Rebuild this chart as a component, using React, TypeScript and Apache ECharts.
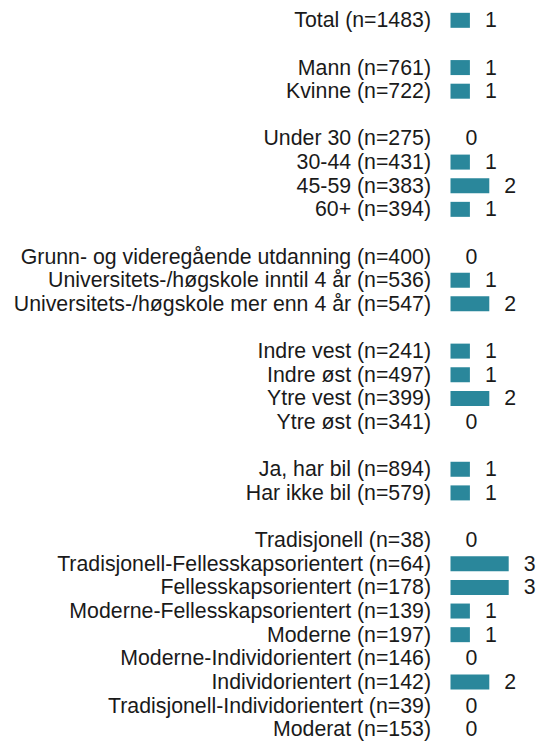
import React, { useEffect, useRef } from "react";
import * as echarts from "echarts";

const categories: string[] = [
  "Total (n=1483)",
  "",
  "Mann (n=761)",
  "Kvinne (n=722)",
  "",
  "Under 30 (n=275)",
  "30-44 (n=431)",
  "45-59 (n=383)",
  "60+ (n=394)",
  "",
  "Grunn- og videregående utdanning (n=400)",
  "Universitets-/høgskole inntil 4 år (n=536)",
  "Universitets-/høgskole mer enn 4 år (n=547)",
  "",
  "Indre vest (n=241)",
  "Indre øst (n=497)",
  "Ytre vest (n=399)",
  "Ytre øst (n=341)",
  "",
  "Ja, har bil (n=894)",
  "Har ikke bil (n=579)",
  "",
  "Tradisjonell (n=38)",
  "Tradisjonell-Fellesskapsorientert (n=64)",
  "Fellesskapsorientert (n=178)",
  "Moderne-Fellesskapsorientert (n=139)",
  "Moderne (n=197)",
  "Moderne-Individorientert (n=146)",
  "Individorientert (n=142)",
  "Tradisjonell-Individorientert (n=39)",
  "Moderat (n=153)",
];

const values: (number | null)[] = [
  1,
  null,
  1, 1,
  null,
  0, 1, 2, 1,
  null,
  0, 1, 2,
  null,
  1, 1, 2, 0,
  null,
  1, 1,
  null,
  0, 3, 3, 1, 1, 0, 2, 0, 0,
];

export default function App() {
  const ref = useRef<HTMLDivElement>(null);
  useEffect(() => {
    document.body.style.margin = "0";
    const chart = echarts.init(ref.current!, null, { renderer: "svg" });
    chart.setOption({
      animation: false,
      grid: { left: 450.5, right: 12.9, top: 8.5, height: 733.4 },
      xAxis: { type: "value", min: 0, max: 4, show: false },
      yAxis: {
        type: "category",
        data: categories,
        inverse: true,
        axisLine: { show: false },
        axisTick: { show: false },
        splitLine: { show: false },
        axisLabel: {
          color: "#1a1a1a",
          fontSize: 21.3,
          fontFamily: "Liberation Sans, Arial, sans-serif",
          margin: 19.5,
          interval: 0,
        },
      },
      series: [
        {
          type: "bar",
          data: values,
          barWidth: 15,
          itemStyle: { color: "#2a879b" },
          label: {
            show: true,
            position: "right",
            distance: 15,
            color: "#1a1a1a",
            fontSize: 21.3,
            fontFamily: "Liberation Sans, Arial, sans-serif",
          },
        },
      ],
    });
    return () => chart.dispose();
  }, []);
  return <div ref={ref} style={{ width: 541, height: 741 }} />;
}
